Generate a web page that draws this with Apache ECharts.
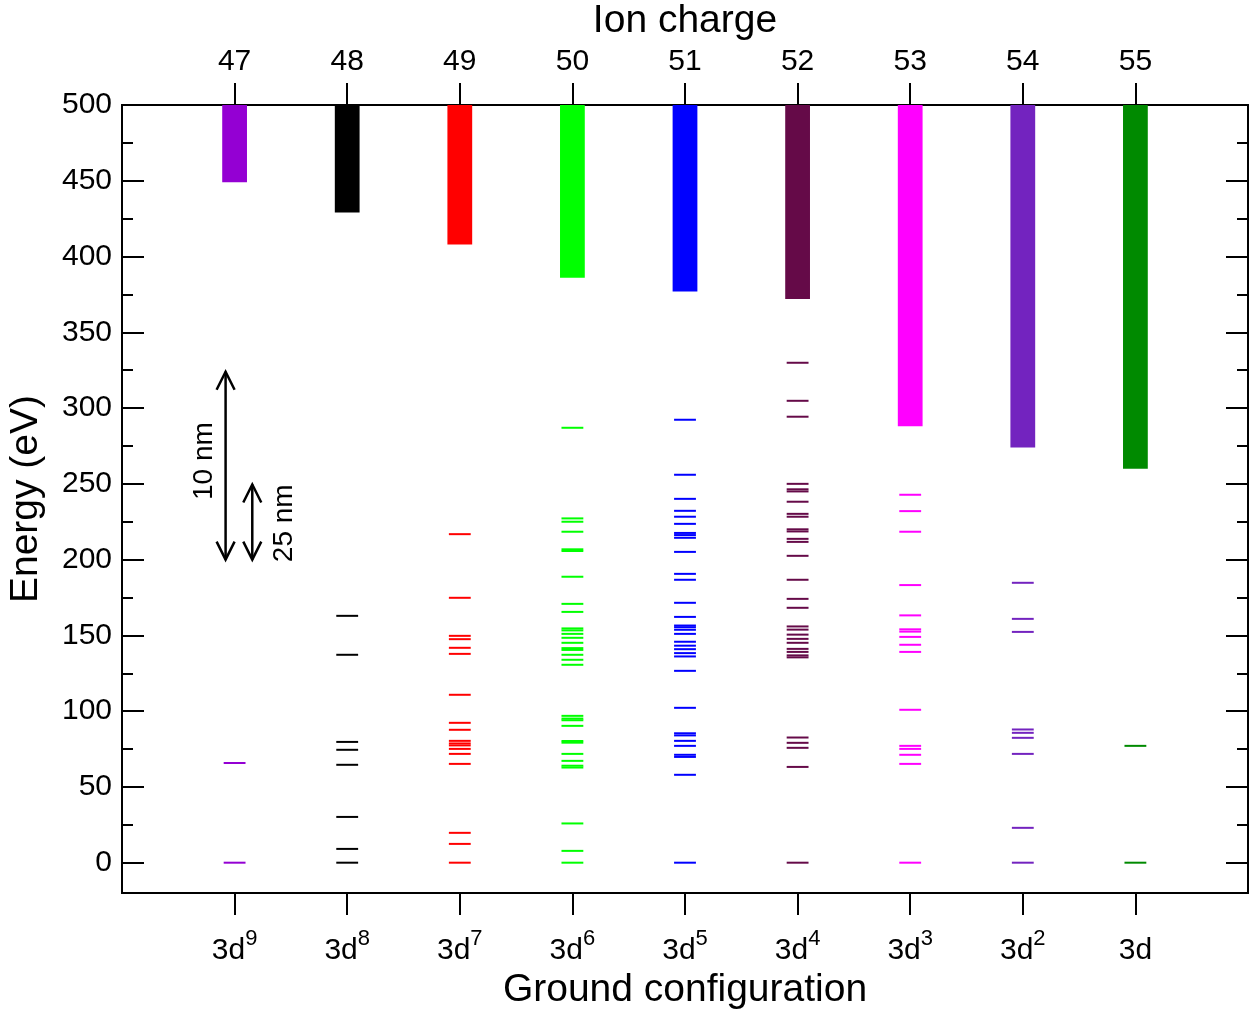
<!DOCTYPE html>
<html>
<head>
<meta charset="utf-8">
<script src="https://cdn.jsdelivr.net/npm/echarts@6/dist/echarts.min.js"></script>
<style>
  html, body { margin: 0; padding: 0; background: #fff; }
  #chart { width: 1255px; height: 1016px; }
</style>
</head>
<body>
<div id="chart"></div>
<script>
// Ion charges (top axis) and matching 3d^n ground configurations (bottom axis)
const ionCharges = [47, 48, 49, 50, 51, 52, 53, 54, 55];
const configSup = ['9', '8', '7', '6', '5', '4', '3', '2', ''];
const ionColors = ['#9400d3', '#000000', '#ff0000', '#00ff00', '#0000ff',
                   '#650a48', '#ff00ff', '#7323bf', '#008a00'];

// Ionisation limit (start of continuum, eV) for each ion
const continuumStart = [449, 429, 408, 386, 377, 372, 288, 274, 260];

// Energy levels (eV) of the ground configuration of each ion
const levels47 = [0, 65.8];
const levels48 = [0, 9.1, 30.2, 64.6, 74.5, 79.7, 137.2, 162.9];
const levels49 = [0, 12.4, 19.7, 65.2, 71.8, 75.1, 77.4, 78.7, 80.4, 87.7, 92.3,
                  110.8, 137.8, 141.8, 147.5, 149.7, 174.8, 216.8];
const levels50 = [0, 7.8, 25.9, 62.8, 64.0, 67.2, 71.8, 79.2, 80.3, 90.3, 94.0,
                  95.1, 96.9, 130.6, 133.9, 137.2, 140.4, 141.6, 145.1, 148.4,
                  151.0, 153.3, 154.6, 165.5, 170.8, 188.7, 205.7, 206.8, 218.4,
                  225.0, 227.2, 287.0];
const levels51 = [0, 58.0, 69.8, 71.2, 77.1, 80.4, 84.0, 85.4, 102.2, 126.6, 136.1,
                  138.3, 140.9, 143.2, 145.8, 151.0, 153.7, 155.4, 156.5, 162.2,
                  171.5, 186.7, 190.6, 205.1, 214.4, 216.2, 217.6, 223.6, 228.3,
                  232.2, 240.1, 256.0, 292.3];
const levels52 = [0, 63.2, 75.8, 79.1, 82.6, 135.5, 136.8, 139.1, 141.1, 145.1,
                  147.7, 150.5, 153.8, 155.9, 168.2, 174.1, 186.7, 202.5, 211.7,
                  213.7, 218.6, 220.0, 228.3, 230.2, 238.2, 245.0, 246.4, 250.0,
                  294.3, 304.8, 329.9];
const levels53 = [0, 65.2, 71.2, 75.1, 77.1, 100.9, 139.1, 143.8, 149.0, 152.5,
                  154.0, 163.2, 183.2, 218.4, 232.0, 242.8];
const levels54 = [0, 23.0, 71.8, 82.4, 85.7, 87.9, 152.3, 160.9, 184.7];
const levels55 = [0, 77.1];

// Wavelength scale bars: energy span of 10 nm and 25 nm photons (eV)
const scaleLabels = ['10 nm', '25 nm'];
const scaleFrom = [200, 200];
const scaleTo = [324, 249.6];
const scaleArrowX = [46.92, 47.157];
const scaleTextX = [46.735, 47.44];
const scaleTextY = [265, 224];

// Energy axis ticks
const energyMajorTicks = [0, 50, 100, 150, 200, 250, 300, 350, 400, 450, 500];
const energyMinorTicks = [25, 75, 125, 175, 225, 275, 325, 375, 425, 475];

const allLevels = [levels47, levels48, levels49, levels50, levels51,
                   levels52, levels53, levels54, levels55];

const levelData = [];
allLevels.forEach((arr, i) => {
  arr.forEach(e => levelData.push([ionCharges[i], e, i]));
});
const continuumData = ionCharges.map((q, i) => [q, continuumStart[i], 500, i]);
const scaleData = scaleLabels.map((t, i) => [scaleArrowX[i], scaleFrom[i], scaleTo[i]]);
const scaleTextData = scaleLabels.map((t, i) => [scaleTextX[i], scaleTextY[i], t]);

const FONT = 'Liberation Sans, Arial, Helvetica, sans-serif';
const LEVEL_HALF = 0.097;   // half length of a level mark (axis units)
const BAR_HALF = 0.11;      // half width of a continuum bar (axis units)

const chart = echarts.init(document.getElementById('chart'), null, { renderer: 'canvas' });

const yCommon = {
  type: 'value', min: -20, max: 500,
  splitLine: { show: false },
  axisLine: { show: true, onZero: false, lineStyle: { color: '#000', width: 2 } }
};
const xCommon = {
  type: 'value', min: 46, max: 56, interval: 1,
  splitLine: { show: false },
  axisLine: { show: true, onZero: false, lineStyle: { color: '#000', width: 2 } }
};

const option = {
  backgroundColor: '#fff',
  animation: false,
  grid: { left: 122, right: 7, top: 105, bottom: 123, containLabel: false, outerBoundsMode: 'none' },
  xAxis: [
    Object.assign({}, xCommon, {
      position: 'bottom',
      name: 'Ground configuration',
      nameLocation: 'middle',
      nameGap: 76,
      nameTextStyle: { fontFamily: FONT, fontSize: 39, color: '#000' },
      axisTick: { show: true, inside: false, length: 22, customValues: ionCharges,
                  lineStyle: { color: '#000', width: 2 } },
      axisLabel: {
        show: true, margin: 35, customValues: ionCharges,
        formatter: v => {
          const i = ionCharges.indexOf(Math.round(v));
          if (i < 0) return '';
          return '{b|3d}' + (configSup[i] ? '{s|' + configSup[i] + '}' : '');
        },
        rich: {
          b: { fontFamily: FONT, fontSize: 30, color: '#000', lineHeight: 46 },
          s: { fontFamily: FONT, fontSize: 22, color: '#000', lineHeight: 16, verticalAlign: 'top' }
        }
      }
    }),
    Object.assign({}, xCommon, {
      position: 'top',
      name: 'Ion charge',
      nameLocation: 'middle',
      nameGap: 64,
      nameTextStyle: { fontFamily: FONT, fontSize: 39, color: '#000' },
      axisTick: { show: true, inside: false, length: 22, customValues: ionCharges,
                  lineStyle: { color: '#000', width: 2 } },
      axisLabel: {
        show: true, margin: 28, customValues: ionCharges,
        fontFamily: FONT, fontSize: 30, color: '#000'
      }
    })
  ],
  yAxis: [
    Object.assign({}, yCommon, {
      position: 'left',
      name: 'Energy (eV)',
      nameLocation: 'middle',
      nameGap: 76,
      nameTextStyle: { fontFamily: FONT, fontSize: 39, color: '#000' },
      axisTick: { show: true, inside: true, length: 22, customValues: energyMajorTicks,
                  lineStyle: { color: '#000', width: 2 } },
      axisLabel: { show: true, margin: 10, customValues: energyMajorTicks,
                   fontFamily: FONT, fontSize: 30, color: '#000' }
    }),
    Object.assign({}, yCommon, {
      position: 'left',
      axisTick: { show: true, inside: true, length: 11, customValues: energyMinorTicks,
                  lineStyle: { color: '#000', width: 2 } },
      axisLabel: { show: false }
    }),
    Object.assign({}, yCommon, {
      position: 'right',
      axisTick: { show: true, inside: true, length: 22, customValues: energyMajorTicks,
                  lineStyle: { color: '#000', width: 2 } },
      axisLabel: { show: false }
    }),
    Object.assign({}, yCommon, {
      position: 'right',
      axisTick: { show: true, inside: true, length: 11, customValues: energyMinorTicks,
                  lineStyle: { color: '#000', width: 2 } },
      axisLabel: { show: false }
    })
  ],
  series: [
    {
      // continuum above the ionisation limit
      type: 'custom', name: 'continuum', xAxisIndex: 0, yAxisIndex: 0,
      data: continuumData,
      renderItem: (params, api) => {
        const q = api.value(0);
        const p1 = api.coord([q - BAR_HALF, api.value(2)]);
        const p2 = api.coord([q + BAR_HALF, api.value(1)]);
        return {
          type: 'rect',
          shape: { x: p1[0], y: p1[1], width: p2[0] - p1[0], height: p2[1] - p1[1] },
          style: { fill: ionColors[api.value(3)] }
        };
      }
    },
    {
      // discrete energy levels
      type: 'custom', name: 'levels', xAxisIndex: 0, yAxisIndex: 0,
      data: levelData,
      renderItem: (params, api) => {
        const q = api.value(0), e = api.value(1);
        const p1 = api.coord([q - LEVEL_HALF, e]);
        const p2 = api.coord([q + LEVEL_HALF, e]);
        return {
          type: 'line',
          shape: { x1: p1[0], y1: p1[1], x2: p2[0], y2: p2[1] },
          style: { stroke: ionColors[api.value(2)], lineWidth: 2 }
        };
      }
    },
    {
      // double-headed wavelength scale arrows
      type: 'custom', name: 'scale', xAxisIndex: 0, yAxisIndex: 0,
      data: scaleData,
      renderItem: (params, api) => {
        const x = api.value(0);
        const lo = api.coord([x, api.value(1)]);
        const hi = api.coord([x, api.value(2)]);
        const w = 9, h = 18;
        const st = { stroke: '#000', lineWidth: 2.5, fill: null };
        return {
          type: 'group',
          children: [
            { type: 'line', shape: { x1: lo[0], y1: lo[1], x2: hi[0], y2: hi[1] }, style: st },
            { type: 'polyline', shape: { points: [[hi[0] - w, hi[1] + h], [hi[0], hi[1]], [hi[0] + w, hi[1] + h]] }, style: st },
            { type: 'polyline', shape: { points: [[lo[0] - w, lo[1] - h], [lo[0], lo[1]], [lo[0] + w, lo[1] - h]] }, style: st }
          ]
        };
      }
    },
    {
      type: 'custom', name: 'scaleText', xAxisIndex: 0, yAxisIndex: 0,
      data: scaleTextData,
      renderItem: (params, api) => {
        const p = api.coord([api.value(0), api.value(1)]);
        return {
          type: 'text',
          x: p[0], y: p[1], rotation: Math.PI / 2,
          style: {
            text: scaleTextData[params.dataIndex][2],
            fontFamily: FONT, fontSize: 28, fill: '#000',
            align: 'center', verticalAlign: 'middle'
          }
        };
      }
    }
  ]
};

chart.setOption(option);
</script>
</body>
</html>
